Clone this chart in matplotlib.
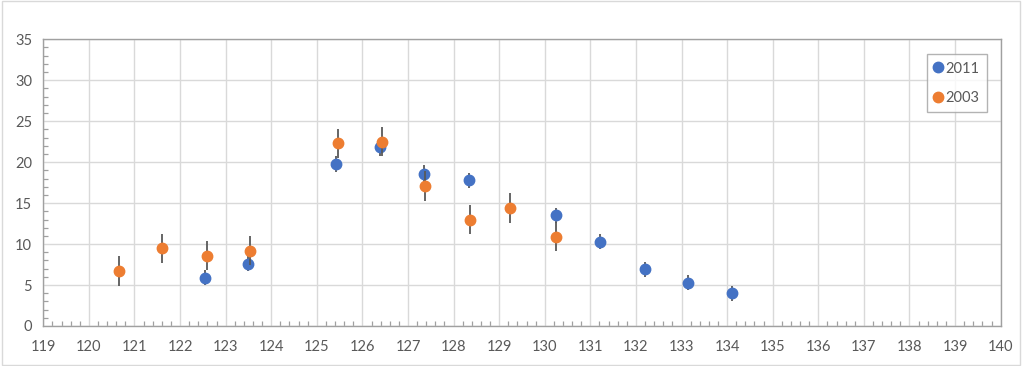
import matplotlib
matplotlib.use("Agg")
import matplotlib.pyplot as plt
from matplotlib.patches import Rectangle
from matplotlib.ticker import MultipleLocator
from matplotlib.lines import Line2D

plt.rcParams['font.family'] = ['Lato', 'DejaVu Sans']

# Series 2011 (blue)
x_2011 = [122.55, 123.5, 125.42, 126.38, 127.35, 128.33, 130.25, 131.22, 132.2, 133.15, 134.1]
y_2011 = [5.9, 7.6, 19.8, 21.8, 18.6, 17.8, 13.5, 10.3, 6.9, 5.3, 4.0]
e_2011 = [0.9, 0.9, 1.0, 1.0, 1.0, 0.9, 0.9, 0.9, 0.9, 0.9, 0.9]

# Series 2003 (orange)
x_2003 = [120.65, 121.6, 122.58, 123.53, 125.46, 126.43, 127.37, 128.36, 129.24, 130.25]
y_2003 = [6.7, 9.5, 8.6, 9.2, 22.3, 22.5, 17.1, 13.0, 14.4, 10.9]
e_2003 = [1.8, 1.75, 1.8, 1.8, 1.75, 1.8, 1.8, 1.8, 1.8, 1.8]

labels = ['2011', '2003']
colors = ['#4472C4', '#ED7D31']

fig = plt.figure(figsize=(10.24, 3.66), dpi=100)
ax = fig.add_axes([0.0423, 0.1093, 0.9349, 0.7833])

err_kw = dict(ecolor='#595959', elinewidth=1.3, capsize=0, linestyle='none')
ax.errorbar(x_2011, y_2011, yerr=e_2011, fmt='o', color=colors[0], ms=7.5,
            label=labels[0], zorder=3, **err_kw)
ax.errorbar(x_2003, y_2003, yerr=e_2003, fmt='o', color=colors[1], ms=7.5,
            label=labels[1], zorder=4, **err_kw)

ax.set_xlim(119, 140)
ax.set_ylim(0, 35)
ax.xaxis.set_major_locator(MultipleLocator(1))
ax.xaxis.set_minor_locator(MultipleLocator(0.2))
ax.yaxis.set_major_locator(MultipleLocator(5))
ax.yaxis.set_minor_locator(MultipleLocator(1))
ax.grid(True, which='major', color='#D9D9D9', linewidth=1.0)
ax.set_axisbelow(True)

for s in ax.spines.values():
    s.set_color('#A0A0A0')
    s.set_linewidth(1.0)

ax.tick_params(which='major', length=0, labelsize=10.5, labelcolor='#595959', pad=10)
ax.tick_params(which='minor', direction='in', length=3.5, color='#A0A0A0', width=0.9)
ax.tick_params(axis='y', which='major', pad=8)

handles = [Line2D([], [], marker='o', linestyle='none', color=c, ms=7.5) for c in colors]
leg = ax.legend(handles, labels, loc='upper right', bbox_to_anchor=(0.9857, 0.948),
                borderaxespad=0, frameon=True, fancybox=False, fontsize=10.5,
                labelspacing=1.05, handletextpad=0.25, borderpad=0.5,
                handlelength=0.5, labelcolor='#595959')
leg.get_frame().set_edgecolor('#A0A0A0')
leg.get_frame().set_linewidth(1.0)

fig.patches.append(Rectangle((0.002, 0.004), 0.994, 0.992, transform=fig.transFigure,
                             fill=False, edgecolor='#D9D9D9', linewidth=1.0))

fig.savefig('out.png', dpi=100)
